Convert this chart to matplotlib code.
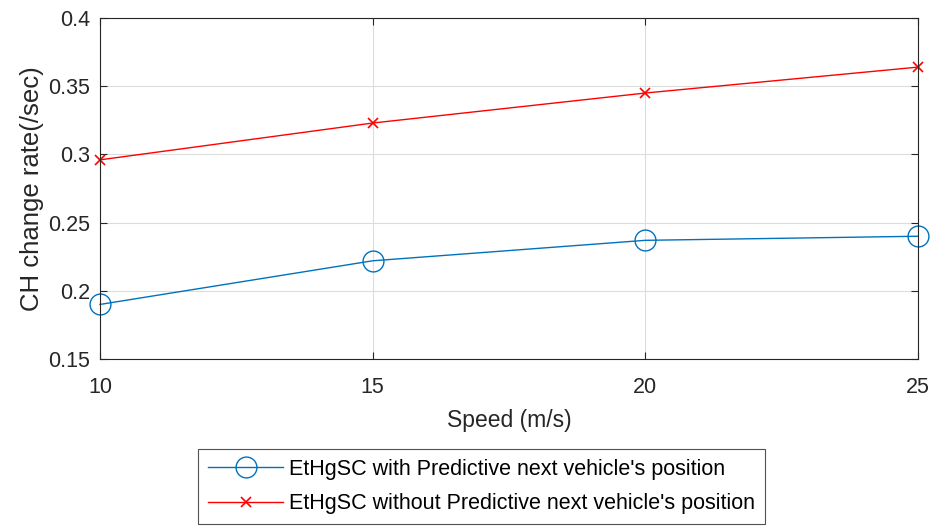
import matplotlib
matplotlib.use("Agg")
import matplotlib.pyplot as plt

speed = [10, 15, 20, 25]
with_pred = [0.190, 0.222, 0.237, 0.240]
without_pred = [0.296, 0.323, 0.345, 0.364]
label_with = "EtHgSC with Predictive next vehicle's position"
label_without = "EtHgSC without Predictive next vehicle's position"
x_ticks = [10, 15, 20, 25]
y_ticks = [0.15, 0.2, 0.25, 0.3, 0.35, 0.4]

plt.rcParams['font.family'] = ['Liberation Sans', 'DejaVu Sans']
fig = plt.figure(figsize=(9.37, 5.27), dpi=100)
ax = fig.add_axes([100/937, 1-359/527, 818/937, 341/527])

blue = (0, 0.447, 0.741)
ax.plot(speed, with_pred, color=blue, marker='o', markersize=15, markerfacecolor='none',
        markeredgewidth=1.0, linewidth=1.0, label=label_with, clip_on=False)
ax.plot(speed, without_pred, color='red', marker='x', markersize=7.5,
        markeredgewidth=1.2, linewidth=1.0, label=label_without, clip_on=False)

ax.set_xlim(10, 25)
ax.set_ylim(0.15, 0.4)
ax.set_xticks(x_ticks)
ax.set_yticks(y_ticks)
ax.set_yticklabels(['0.15', '0.2', '0.25', '0.3', '0.35', '0.4'])
ax.grid(True, color='#dcdcdc', linewidth=0.8)
ax.tick_params(direction='in', labelsize=15.5, colors='#262626', top=True, right=True, length=5)
ax.tick_params(axis='x', pad=13)
ax.tick_params(axis='y', pad=7)
for s in ax.spines.values():
    s.set_color('#262626')
    s.set_linewidth(0.8)
ax.set_xlabel('Speed (m/s)', fontsize=16.5, color='#262626', labelpad=8)
ax.set_ylabel('CH change rate(/sec)', fontsize=18.5, color='#262626', labelpad=3)

leg = fig.legend(loc='center', bbox_to_anchor=(481.5/937, 1-486.5/527), fontsize=15.5,
                 frameon=True, fancybox=False, edgecolor='#262626', handlelength=3.5,
                 handletextpad=0.25, borderpad=0.45, labelspacing=0.65)
leg.get_frame().set_linewidth(0.8)

fig.savefig('out.png', dpi=100)
